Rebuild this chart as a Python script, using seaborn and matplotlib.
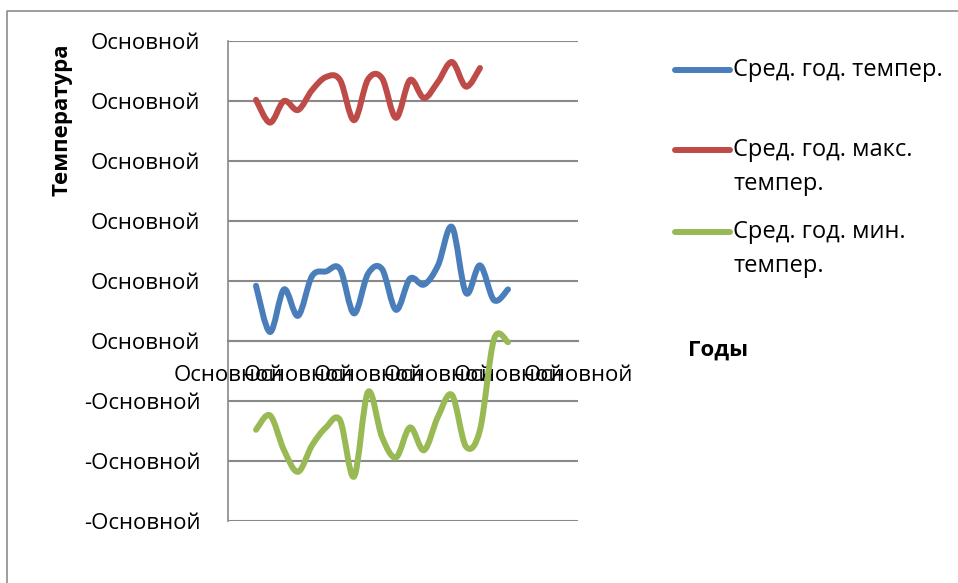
import numpy as np
import matplotlib
matplotlib.use("Agg")
import matplotlib.pyplot as plt
from matplotlib.path import Path
from matplotlib.patches import PathPatch
from matplotlib.lines import Line2D
import seaborn as sns

# years on the category axis, one value per year
years = list(range(1997, 2016))
years_max = list(range(1997, 2014))

avg_temp = [4.6, 0.75, 4.3, 2.1, 5.4, 5.8, 6.0, 2.3, 5.6, 6.0,
            2.6, 5.2, 4.7, 6.3, 9.5, 4.0, 6.3, 3.4, 4.3]
max_temp = [20.1, 18.2, 20.0, 19.25, 20.9, 22.0, 21.75, 18.4, 21.8,
            21.9, 18.6, 21.75, 20.25, 21.6, 23.25, 21.2, 22.75]
min_temp = [-7.4, -6.2, -9.1, -10.9, -8.7, -7.2, -6.6, -11.3, -4.25,
            -8.0, -9.7, -7.2, -9.1, -6.3, -4.5, -8.8, -7.4, 0.15, -0.1]

series_names = ["Сред. год. темпер.", "Сред. год. макс.\nтемпер.",
                "Сред. год. мин.\nтемпер."]
colors = ["#4A7EBB", "#BE4B48", "#98B954"]

x_ticks = [1995, 2000, 2005, 2010, 2015, 2020]
y_ticks = [-15, -10, -5, 0, 5, 10, 15, 20, 25]
x_labels = ["Основной"] * len(x_ticks)
y_labels = ["-Основной" if v < 0 else "Основной" for v in y_ticks]

sns.set_style("white")
plt.rcParams["font.family"] = ["Open Sans", "DejaVu Sans"]
plt.rcParams["text.color"] = "black"
plt.rcParams["xtick.color"] = "black"
plt.rcParams["ytick.color"] = "black"
FS = 16


def smooth_path(xs, ys):
    # excel-like smoothed line: cubic bezier through the points
    p = np.column_stack([xs, ys]).astype(float)
    verts = [p[0]]
    codes = [Path.MOVETO]
    n = len(p)
    for i in range(n - 1):
        p0 = p[i - 1] if i > 0 else p[i]
        p3 = p[i + 2] if i + 2 < n else p[i + 1]
        c1 = p[i] + (p[i + 1] - p0) / 6
        c2 = p[i + 1] - (p3 - p[i]) / 6
        verts += [c1, c2, p[i + 1]]
        codes += [Path.CURVE4] * 3
    return Path(verts, codes)


fig = plt.figure(figsize=(9.58, 5.83), dpi=100)
ax = fig.add_axes([228 / 958, 1 - 521 / 583, 350 / 958, 480 / 583])

grid_c = "#898989"
for s in ["top", "right"]:
    ax.spines[s].set_visible(False)
ax.spines["left"].set_color(grid_c)
ax.spines["left"].set_linewidth(1.2)
ax.spines["bottom"].set_position(("data", 0))
ax.spines["bottom"].set_color(grid_c)
ax.spines["bottom"].set_linewidth(1.5)

ax.set_xlim(1995, 2020)
ax.set_ylim(-15, 25)
ax.set_yticks(y_ticks)
ax.set_yticklabels(y_labels, fontsize=FS)
ax.set_xticks(x_ticks)
# overlapping category labels, as in the original excel chart
ax.set_xticklabels(x_labels, fontsize=FS)
ax.yaxis.grid(True, color=grid_c, linewidth=1.5)
ax.xaxis.grid(False)
ax.set_axisbelow(True)
ax.tick_params(axis="y", length=0, pad=20, labelcolor="black")
ax.tick_params(axis="x", length=0, pad=17, labelcolor="black", labelsize=FS)

for xs, ys, c in [(years, avg_temp, colors[0]), (years_max, max_temp, colors[1]),
                  (years, min_temp, colors[2])]:
    ax.add_patch(PathPatch(smooth_path(xs, ys), facecolor="none", edgecolor=c,
                           lw=4.3, capstyle="round", joinstyle="round", zorder=3))

fig.text(62 / 958, 1 - 120 / 583, "Температура", rotation=90, fontsize=FS,
         fontweight="bold", ha="center", va="center")
fig.text(718 / 958, 1 - 350 / 583, "Годы", fontsize=FS, fontweight="bold",
         ha="center", va="center")

# legend drawn by hand, Excel style
leg_y = [70, 150, 232]
for name, c, y in zip(series_names, colors, leg_y):
    fig.add_artist(Line2D([675 / 958, 730 / 958], [1 - y / 583] * 2, color=c,
                          lw=4.3, solid_capstyle="round",
                          transform=fig.transFigure))
    fig.text(733 / 958, 1 - (y - 12) / 583, name, fontsize=17, ha="left",
             va="top", linespacing=1.55)

# chart area border
fig.add_artist(Line2D([7 / 958, 7 / 958, 1], [0, 1 - 11 / 583, 1 - 11 / 583],
                      color="#8c8c8c", lw=1.2, transform=fig.transFigure))

fig.savefig("out.png", dpi=100)
